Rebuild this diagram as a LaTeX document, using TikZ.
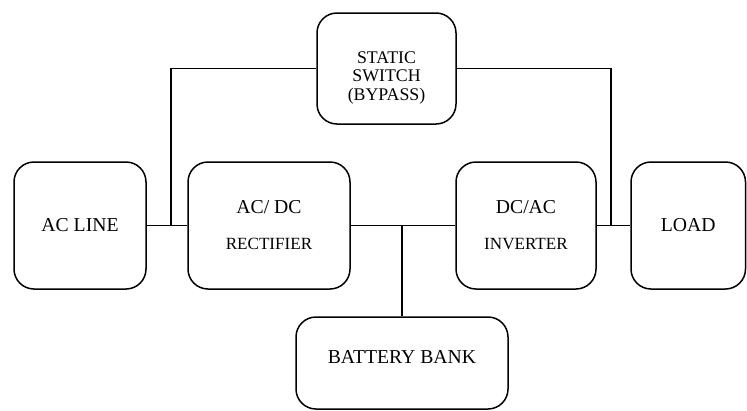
\documentclass[tikz,border=0pt]{standalone}
\usepackage{fontspec}
\setmainfont{Liberation Serif}
\begin{document}
\begin{tikzpicture}[x=1pt,y=-1pt,
  blk/.style={draw=black, line width=1.5pt, rounded corners=20pt, inner sep=0pt, align=center, fill=white},
  big/.style={font=\fontsize{19.7}{36}\selectfont},
  wire/.style={draw=black, line width=1.5pt}]
\useasboundingbox (0,0) rectangle (747,410);
\node[blk, big, minimum width=132pt, minimum height=127pt] (acl) at (80,225.5) {AC LINE};
\node[blk, minimum width=162pt, minimum height=127pt, font=\fontsize{19.7}{36}\selectfont] (rect) at (269,225.5)
  {AC/ DC\\{\fontsize{17.1}{36}\selectfont RECTIFIER}};
\node[blk, minimum width=140pt, minimum height=127pt, font=\fontsize{19.7}{36}\selectfont] (inv) at (526,225.5)
  {DC/AC\\{\fontsize{17.1}{36}\selectfont INVERTER}};
\node[blk, big, minimum width=114.5pt, minimum height=127pt] (load) at (688.25,225.5) {LOAD};
\node[blk, minimum width=139pt, minimum height=111pt,
  label={[font=\fontsize{17.8}{18.5}\selectfont, align=center, yshift=-9pt]center:STATIC\\SWITCH\\(BYPASS)}] (ss) at (386.5,68.5) {};
\node[blk, minimum width=212pt, minimum height=92pt,
  label={[font=\fontsize{19.7}{24}\selectfont, yshift=6pt]center:BATTERY BANK}] (bat) at (402,363) {};
\coordinate (j1) at (171,225.5);
\coordinate (j2) at (611,225.5);
\coordinate (j3) at (402,225.5);
\draw[wire] (acl.east) -- (rect.west);
\draw[wire] (rect.east) -- (inv.west);
\draw[wire] (inv.east) -- (load.west);
\draw[wire] (j1) |- (ss.west);
\draw[wire] (ss.east) -| (j2);
\draw[wire] (j3) -- (bat.north);
\end{tikzpicture}
\end{document}
